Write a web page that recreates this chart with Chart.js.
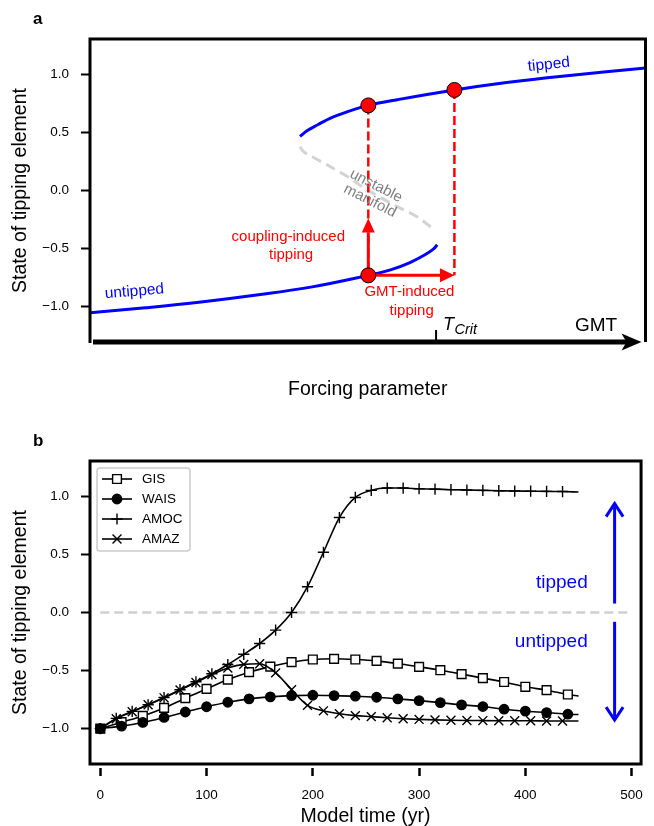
<!DOCTYPE html>
<html><head><meta charset="utf-8">
<script src="https://cdn.jsdelivr.net/npm/chart.js@4.4.1/dist/chart.umd.min.js"></script>
<style>
html,body{margin:0;padding:0;background:#fff;}
#ca{position:absolute;left:0;top:0;}
#cb{position:absolute;left:0;top:415px;}
</style></head><body>
<canvas id="ca" width="654" height="415"></canvas>
<canvas id="cb" width="654" height="411"></canvas>
<script>
// ---------------- Panel a : schematic bifurcation diagram ----------------
const lowerX = [0.0, 1.0, 2.0, 3.0, 4.0, 5.01, 5.41, 5.76, 6.03, 6.18, 6.25];
const lowerY = [-1.054, -1.010, -0.960, -0.900, -0.830, -0.731, -0.684, -0.621, -0.554, -0.505, -0.468];
const upperX = [3.78, 3.92, 4.10, 4.33, 4.63, 5.01, 5.53, 6.56, 7.5, 8.5, 10.0];
const upperY = [0.466, 0.519, 0.566, 0.624, 0.678, 0.733, 0.782, 0.866, 0.930, 0.985, 1.055];
const unstableX = [3.78, 3.85, 4.10, 4.58, 4.99, 5.47, 5.88, 6.06, 6.21];
const unstableY = [0.377, 0.333, 0.265, 0.135, 0.006, -0.123, -0.224, -0.287, -0.339];
const dotX = [5.01, 5.01, 6.56];
const dotY = [-0.731, 0.733, 0.866];
const yTickLabels = ['\u22121.0', '\u22120.5', '0.0', '0.5', '1.0'];

// ---------------- Panel b : model time series ----------------
const timeGW = [0, 20, 40, 60, 80, 100, 120, 140, 160, 180, 200, 220, 240, 260, 280, 300, 320, 340, 360, 380, 400, 420, 440, 450];
const gis  = [-1.0, -0.945, -0.891, -0.822, -0.738, -0.658, -0.578, -0.514, -0.466, -0.428, -0.405, -0.399, -0.405, -0.417, -0.440, -0.468, -0.497, -0.531, -0.565, -0.599, -0.640, -0.669, -0.706, -0.720];
const wais = [-1.0, -0.979, -0.947, -0.904, -0.857, -0.812, -0.773, -0.744, -0.727, -0.716, -0.713, -0.716, -0.721, -0.730, -0.744, -0.759, -0.776, -0.796, -0.810, -0.833, -0.850, -0.862, -0.876, -0.879];
const timeAA = [0, 15, 30, 45, 60, 75, 90, 105, 120, 135, 150, 165, 180, 195, 210, 225, 240, 255, 270, 285, 300, 315, 330, 345, 360, 375, 390, 405, 420, 435, 450];
const amoc = [-1.0, -0.912, -0.852, -0.795, -0.732, -0.665, -0.597, -0.528, -0.448, -0.360, -0.267, -0.152, 0.0, 0.222, 0.519, 0.818, 0.991, 1.052, 1.072, 1.072, 1.066, 1.063, 1.058, 1.055, 1.052, 1.049, 1.046, 1.045, 1.043, 1.042, 1.038];
const amaz = [-1.0, -0.915, -0.855, -0.795, -0.735, -0.668, -0.603, -0.535, -0.478, -0.447, -0.442, -0.520, -0.664, -0.800, -0.847, -0.872, -0.888, -0.897, -0.907, -0.915, -0.921, -0.925, -0.928, -0.930, -0.931, -0.932, -0.933, -0.933, -0.934, -0.934, -0.934];
const seriesNames = ['GIS', 'WAIS', 'AMOC', 'AMAZ'];
const xTickLabelsB = ['0', '100', '200', '300', '400', '500'];

const FONT = "'Liberation Sans', Arial, Helvetica, sans-serif";
Chart.defaults.font.family = FONT;
Chart.defaults.color = '#000';
const BLUE = '#0000ff', RED = '#ff0000';

const pts = (xs, ys) => xs.map((v, i) => ({x: v, y: ys[i]}));

function yAxis(titleText) {
  return {
    type: 'linear', min: -1.305, max: 1.305,
    afterFit: s => { s.width = 90; },
    ticks: { stepSize: 0.5, includeBounds: false, padding: 12, font: {size: 13.5},
      callback: v => { const i = Math.round((v + 1) / 0.5); return yTickLabels[i]; } },
    grid: { drawOnChartArea: false, drawTicks: true, tickLength: 9, tickWidth: 2, tickColor: '#000' },
    border: { display: false },
    title: { display: true, text: titleText, font: {size: 19.5, lineHeight: 1}, padding: {top: 11, bottom: 0} }
  };
}

function txt(ctx, s, px, py, font, color, deg, align) {
  ctx.save();
  ctx.translate(px, py);
  if (deg) ctx.rotate(deg * Math.PI / 180);
  ctx.font = font; ctx.fillStyle = color;
  ctx.textAlign = align || 'center'; ctx.textBaseline = 'middle';
  ctx.fillText(s, 0, 0);
  ctx.restore();
}

const panelA = {
  id: 'panelA',
  afterDatasetsDraw(chart) {
    const {ctx, scales: {x, y}} = chart;
    ctx.save();
    ctx.fillStyle = RED;
    const vx = x.getPixelForValue(5.01), vb = y.getPixelForValue(-0.362), vt = y.getPixelForValue(-0.24);
    ctx.beginPath(); ctx.moveTo(vx, vt); ctx.lineTo(vx - 6.5, vb); ctx.lineTo(vx + 6.5, vb); ctx.closePath(); ctx.fill();
    const hy = y.getPixelForValue(-0.731), hb = x.getPixelForValue(6.30), ht = x.getPixelForValue(6.56);
    ctx.beginPath(); ctx.moveTo(ht, hy); ctx.lineTo(hb, hy - 7); ctx.lineTo(hb, hy + 7); ctx.closePath(); ctx.fill();
    ctx.restore();
  },
  afterDraw(chart) {
    const {ctx, chartArea: ca, scales: {x, y}} = chart;
    ctx.save();
    ctx.strokeStyle = '#000'; ctx.lineWidth = 3;
    ctx.beginPath();
    ctx.moveTo(ca.left, ca.bottom + 1); ctx.lineTo(ca.left, ca.top);
    ctx.lineTo(ca.right, ca.top); ctx.lineTo(ca.right, ca.bottom);
    ctx.stroke();
    ctx.lineWidth = 5;
    ctx.beginPath(); ctx.moveTo(ca.left + 3, ca.bottom); ctx.lineTo(ca.right - 16, ca.bottom); ctx.stroke();
    ctx.fillStyle = '#000';
    const tip = ca.right - 4;
    ctx.beginPath();
    ctx.moveTo(tip, ca.bottom); ctx.lineTo(tip - 20, ca.bottom - 8.5);
    ctx.lineTo(tip - 15, ca.bottom); ctx.lineTo(tip - 20, ca.bottom + 8.5);
    ctx.closePath(); ctx.fill();
    const tc = x.getPixelForValue(6.23);
    ctx.lineWidth = 2;
    ctx.beginPath(); ctx.moveTo(tc, ca.bottom - 12); ctx.lineTo(tc, ca.bottom); ctx.stroke();
    ctx.textBaseline = 'alphabetic'; ctx.textAlign = 'left';
    ctx.font = 'italic 18px ' + FONT;
    ctx.fillText('T', tc + 7, 329.5);
    const tw = ctx.measureText('T').width;
    ctx.font = 'italic 14.5px ' + FONT;
    ctx.fillText('Crit', tc + 7 + tw + 0.5, 334);
    ctx.font = '19px ' + FONT;
    ctx.fillText('GMT', 575, 330.5);
    ctx.font = 'bold 17px ' + FONT;
    ctx.fillText('a', 33, 24);
    ctx.restore();
    const P = (a, b) => [x.getPixelForValue(a), y.getPixelForValue(b)];
    let p;
    p = P(8.26, 1.084); txt(ctx, 'tipped', p[0], p[1], '15.5px ' + FONT, BLUE, -6);
    p = P(0.80, -0.87); txt(ctx, 'untipped', p[0], p[1], '15.5px ' + FONT, BLUE, -5);
    p = P(5.15, 0.04); txt(ctx, 'unstable', p[0], p[1], '15px ' + FONT, '#7f7f7f', 27);
    p = P(5.04, -0.089); txt(ctx, 'manifold', p[0], p[1], '15px ' + FONT, '#7f7f7f', 27);
    p = P(3.57, -0.40); txt(ctx, 'coupling-induced', p[0], p[1], '15px ' + FONT, RED, 0);
    p = P(3.62, -0.556); txt(ctx, 'tipping', p[0], p[1], '15px ' + FONT, RED, 0);
    p = P(5.75, -0.876); txt(ctx, 'GMT-induced', p[0], p[1], '15px ' + FONT, RED, 0);
    p = P(5.79, -1.035); txt(ctx, 'tipping', p[0], p[1], '15px ' + FONT, RED, 0);
  }
};

new Chart(document.getElementById('ca'), {
  type: 'line',
  data: { datasets: [
    { data: pts(dotX, dotY), showLine: false, pointRadius: 7.5, pointBackgroundColor: RED, pointBorderColor: '#000', pointBorderWidth: 1, order: 0 },
    { data: pts(lowerX, lowerY), borderColor: BLUE, borderWidth: 3, pointRadius: 0, tension: 0.4, order: 2 },
    { data: pts(upperX, upperY), borderColor: BLUE, borderWidth: 3, pointRadius: 0, tension: 0.4, order: 2 },
    { data: pts(unstableX, unstableY), borderColor: '#d3d3d3', borderWidth: 3, borderDash: [10, 6], pointRadius: 0, tension: 0.4, order: 5 },
    { data: pts([dotX[1], dotX[0]], [dotY[1], dotY[0]]), borderColor: RED, borderWidth: 2.5, borderDash: [9, 4], pointRadius: 0, order: 4 },
    { data: pts([dotX[2], dotX[2]], [dotY[2], dotY[0]]), borderColor: RED, borderWidth: 2.5, borderDash: [9, 4], pointRadius: 0, order: 4 },
    { data: pts([dotX[0], dotX[0]], [dotY[0], -0.36]), borderColor: RED, borderWidth: 3, pointRadius: 0, order: 1 },
    { data: pts([dotX[0], 6.31], [dotY[0], dotY[0]]), borderColor: RED, borderWidth: 3, pointRadius: 0, order: 1 }
  ]},
  options: {
    responsive: false, animation: false, devicePixelRatio: 1,
    layout: { padding: { top: 39, right: 3, left: 0, bottom: 0 } },
    plugins: { legend: { display: false }, tooltip: { enabled: false } },
    scales: {
      x: { type: 'linear', min: 0, max: 10,
        afterFit: s => { s.height = 73; },
        ticks: { display: false }, grid: { display: false }, border: { display: false },
        title: { display: true, text: 'Forcing parameter', font: {size: 19.5, lineHeight: 1}, padding: {top: 0, bottom: 16} } },
      y: yAxis('State of tipping element')
    }
  },
  plugins: [panelA]
});

// ---------------- Panel b ----------------
const styles = [
  { pointStyle: 'rect', radius: 6.2, bg: '#ffffff' },
  { pointStyle: 'circle', radius: 4.7, bg: '#000000' },
  { pointStyle: 'cross', radius: 5.6, bg: '#000000' },
  { pointStyle: 'crossRot', radius: 6.3, bg: '#000000' }
];

function series(i, t, v, order) {
  const st = styles[i];
  return {
    label: seriesNames[i], data: pts(t, v), borderColor: '#000', borderWidth: 1.6,
    cubicInterpolationMode: 'monotone', order: order,
    pointStyle: st.pointStyle, pointBackgroundColor: st.bg, pointBorderColor: '#000', pointBorderWidth: 1.4,
    pointRadius: c => (c.dataIndex === t.length - 1 ? 0 : st.radius)
  };
}

const panelB = {
  id: 'panelB',
  afterDraw(chart) {
    const {ctx, chartArea: ca, scales: {x, y}} = chart;
    ctx.save();
    ctx.strokeStyle = '#000'; ctx.lineWidth = 3;
    ctx.strokeRect(ca.left, ca.top, ca.right - ca.left, ca.bottom - ca.top);
    const lx = ca.left + 7, ly = ca.top + 7;
    ctx.lineWidth = 1.5; ctx.strokeStyle = '#cccccc'; ctx.fillStyle = 'rgba(255,255,255,0.85)';
    ctx.beginPath(); ctx.roundRect(lx, ly, 93, 83, 3); ctx.fill(); ctx.stroke();
    ctx.font = '13.5px ' + FONT; ctx.textAlign = 'left'; ctx.textBaseline = 'middle';
    for (let i = 0; i < 4; i++) {
      const yy = ly + 11 + i * 20;
      ctx.strokeStyle = '#000'; ctx.lineWidth = 1.6;
      ctx.beginPath(); ctx.moveTo(lx + 5, yy); ctx.lineTo(lx + 35, yy); ctx.stroke();
      ctx.fillStyle = styles[i].bg; ctx.lineWidth = 1.4;
      Chart.helpers.drawPoint(ctx, { pointStyle: styles[i].pointStyle, radius: styles[i].radius, rotation: 0, borderWidth: 1.4 }, lx + 20, yy);
      ctx.fillStyle = '#000';
      ctx.fillText(seriesNames[i], lx + 45, yy + 0.5);
    }
    ctx.strokeStyle = BLUE; ctx.fillStyle = BLUE; ctx.lineWidth = 3; ctx.lineCap = 'butt';
    const ax = x.getPixelForValue(484);
    const arrows = [[0.077, 0.938], [-0.08, -0.927]];
    arrows.forEach(([a, b]) => {
      const ya = y.getPixelForValue(a), yb = y.getPixelForValue(b);
      const dir = Math.sign(yb - ya);
      ctx.beginPath(); ctx.moveTo(ax, ya); ctx.lineTo(ax, yb); ctx.stroke();
      ctx.beginPath(); ctx.moveTo(ax - 8.5, yb - dir * 13); ctx.lineTo(ax, yb); ctx.lineTo(ax + 8.5, yb - dir * 13); ctx.stroke();
    });
    ctx.font = '19px ' + FONT; ctx.textAlign = 'right'; ctx.textBaseline = 'middle';
    const tx = x.getPixelForValue(458.7);
    ctx.fillText('tipped', tx, y.getPixelForValue(0.252));
    ctx.fillText('untipped', tx, y.getPixelForValue(-0.252));
    ctx.fillStyle = '#000'; ctx.textAlign = 'left'; ctx.textBaseline = 'alphabetic';
    ctx.font = 'bold 17px ' + FONT;
    ctx.fillText('b', 33, 31);
    ctx.restore();
  }
};

new Chart(document.getElementById('cb'), {
  type: 'line',
  data: { datasets: [
    series(0, timeGW, gis, 3),
    series(1, timeGW, wais, 2),
    series(2, timeAA, amoc, 1),
    series(3, timeAA, amaz, 0),
    { data: pts([0, 500], [0, 0]), borderColor: '#cfcfcf', borderWidth: 2.5, borderDash: [9, 5], pointRadius: 0, order: 9 }
  ]},
  options: {
    responsive: false, animation: false, devicePixelRatio: 1,
    layout: { padding: { top: 46, right: 3, left: 0, bottom: 0 } },
    plugins: { legend: { display: false }, tooltip: { enabled: false } },
    scales: {
      x: { type: 'linear', min: -9.7, max: 508.9,
        afterFit: s => { s.height = 62; },
        ticks: { stepSize: 100, includeBounds: false, padding: 11, font: {size: 13.5}, maxRotation: 0,
          callback: v => xTickLabelsB[Math.round(v / 100)] },
        grid: { drawOnChartArea: false, drawTicks: true, tickLength: 12, tickWidth: 2.5, tickColor: '#000' },
        border: { display: true, width: 8, color: 'rgba(0,0,0,0)' },
        title: { display: true, text: 'Model time (yr)', font: {size: 19.5, lineHeight: 1}, padding: {top: 0, bottom: 0} } },
      y: yAxis('State of tipping element')
    }
  },
  plugins: [panelB]
});
</script>
</body></html>
